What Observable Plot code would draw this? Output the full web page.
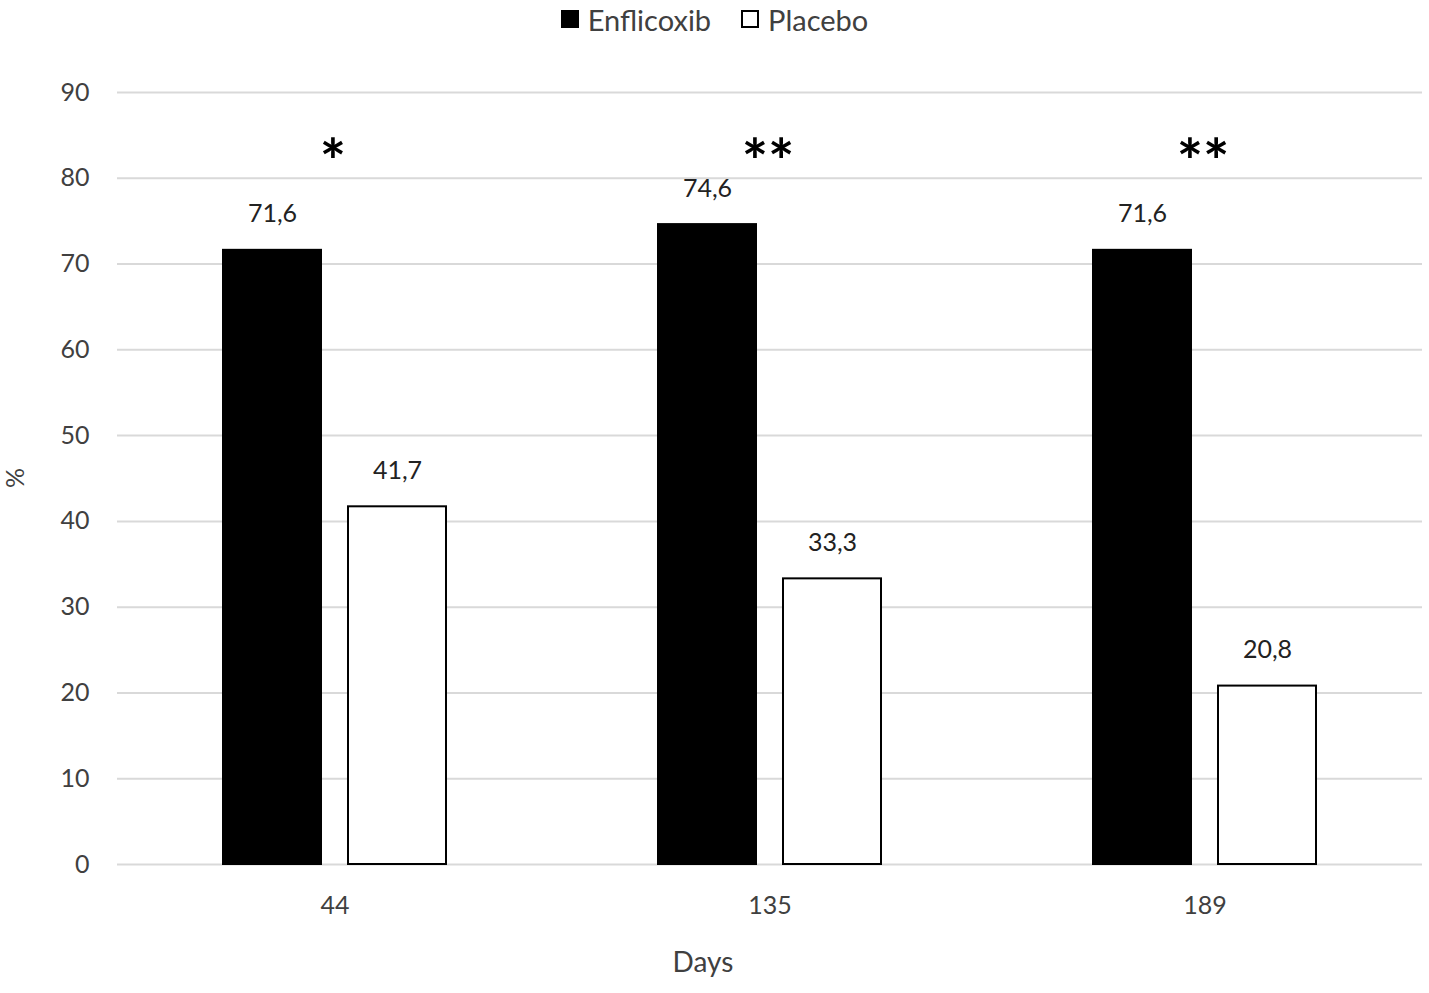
<!DOCTYPE html>
<html>
<head>
<meta charset="utf-8">
<script src="https://cdn.jsdelivr.net/npm/d3@7"></script>
<script src="https://cdn.jsdelivr.net/npm/@observablehq/plot@0.6"></script>
<style>
  body { margin: 0; background: #fff; font-family: Lato, "Open Sans", sans-serif; }
  #legend { height: 44px; box-sizing: border-box; padding-bottom: 6px; display: flex; justify-content: center; align-items: center; gap: 30px; font-size: 29px; color: #404040; }
  #legend .item { display: flex; align-items: center; gap: 9px; }
  #legend .sw { width: 18px; height: 18px; box-sizing: border-box; border: 2px solid #000; }
</style>
</head>
<body>
<div id="legend"></div>
<div id="chart"></div>
<script>
const days = [44, 135, 189];
const series = ["Enflicoxib", "Placebo"];
const enflicoxib = [71.6, 74.6, 71.6];
const placebo = [41.7, 33.3, 20.8];
const stars = ["*", "**", "**"];
const yTicks = [0, 10, 20, 30, 40, 50, 60, 70, 80, 90];
const fills = ["#000000", "#ffffff"];

const data = [];
days.forEach((d, i) => {
  data.push({day: d, series: "Enflicoxib", value: enflicoxib[i]});
  data.push({day: d, series: "Placebo", value: placebo[i]});
});
const starData = days.map((d, i) => ({day: d, star: stars[i]}));

const legend = document.getElementById("legend");
series.forEach((s, i) => {
  const it = document.createElement("div");
  it.className = "item";
  const sw = document.createElement("div");
  sw.className = "sw";
  sw.style.background = fills[i];
  const t = document.createElement("span");
  t.textContent = s;
  it.append(sw, t);
  legend.append(it);
});

const chart = Plot.plot({
  width: 1429,
  height: 949,
  marginTop: 48,
  marginBottom: 129,
  marginLeft: 117,
  marginRight: 7,
  style: {fontFamily: "Lato, 'Open Sans', sans-serif", background: "#fff"},
  fx: {domain: days, padding: 0, label: null},
  x: {domain: series, paddingInner: 0.216, paddingOuter: 0.848, axis: null},
  y: {domain: [0, 90], ticks: yTicks, label: null},
  color: {domain: series, range: fills},
  marks: [
    Plot.gridY(yTicks, {stroke: "#d9d9d9", strokeOpacity: 1, strokeWidth: 2}),
    Plot.axisY(yTicks, {tickSize: 0, tickPadding: 28, fontSize: 25, fill: "#404040", label: null}),
    Plot.axisFx({anchor: "bottom", tickSize: 0, tickPadding: 32, fontSize: 25, fill: "#404040", label: null}),
    Plot.barY(data, {fx: "day", x: "series", y: "value", fill: "series", stroke: "#000", strokeWidth: 2}),
    Plot.text(data, {fx: "day", x: "series", y: "value", text: d => d.value.toFixed(1).replace(".", ","), dy: -36, fontSize: 25, fill: "#222"}),
    Plot.text(starData, {fx: "day", text: "star", frameAnchor: "top", dy: 47, dx: -2, fontSize: 62, fill: "#000", fontWeight: "bold", letterSpacing: 4})
  ]
});
document.getElementById("chart").append(chart);

const svg = d3.select(chart);
svg.append("text").attr("x", 703).attr("y", 921).attr("text-anchor", "middle").attr("dominant-baseline", "middle")
  .attr("font-size", 28).attr("fill", "#404040").text("Days");
svg.append("text").attr("transform", "translate(18,434) rotate(-90)").attr("text-anchor", "middle").attr("dominant-baseline", "middle")
  .attr("font-size", 25).attr("fill", "#404040").text("%");
</script>
</body>
</html>
